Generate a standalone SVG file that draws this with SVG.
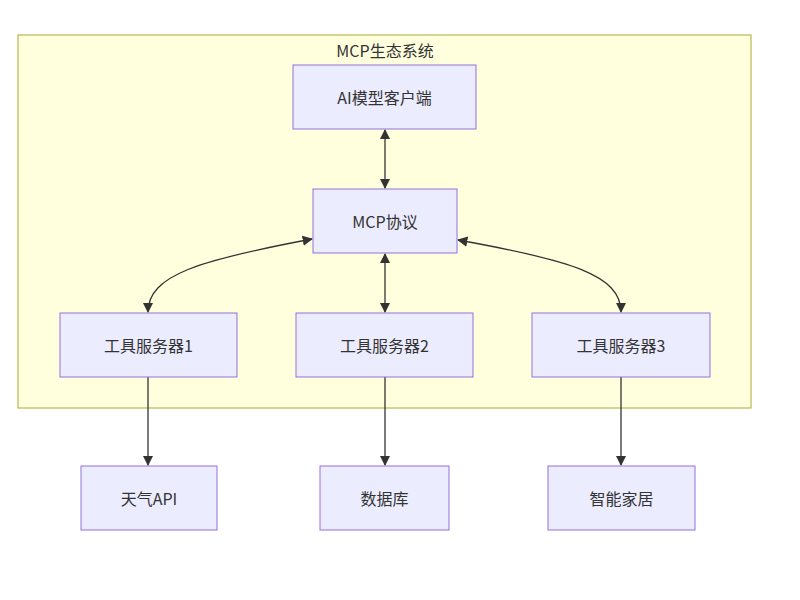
<svg xmlns="http://www.w3.org/2000/svg" width="800" height="600" viewBox="0 0 800 600">
<style>
.node rect{fill:#ececff;stroke:#9370db;stroke-width:1}
text{font-family:"Noto Sans CJK SC","Liberation Sans",sans-serif;font-size:16px;fill:#333;text-anchor:middle;dominant-baseline:central}
.e{fill:none;stroke:#333;stroke-width:1.3}
</style>
<defs>
<marker id="a" viewBox="0 0 10 10" refX="9" refY="5" markerWidth="8" markerHeight="8" orient="auto-start-reverse"><path d="M0,0L10,5L0,10z" fill="#333"/></marker>
</defs>
<rect width="800" height="600" fill="#fff"/>
<g id="cluster"><rect x="18" y="35" width="733" height="373" fill="#ffffde" stroke="#aaaa33"/><text x="385" y="50">MCP生态系统</text></g>
<g id="edges">
<path class="e" d="M385,130V188" marker-start="url(#a)" marker-end="url(#a)"/>
<path class="e" d="M385,254V312" marker-start="url(#a)" marker-end="url(#a)"/>
<path class="e" d="M312,239C200,260 148,275 148,312" marker-start="url(#a)" marker-end="url(#a)"/>
<path class="e" d="M458,240C570,260 621,275 621,312" marker-start="url(#a)" marker-end="url(#a)"/>
<path class="e" d="M148,377V465" marker-end="url(#a)"/>
<path class="e" d="M385,377V465" marker-end="url(#a)"/>
<path class="e" d="M621,377V465" marker-end="url(#a)"/>
</g>
<g id="ai" class="node"><rect x="293" y="65" width="183" height="64"/><text x="384.5" y="97">AI模型客户端</text></g>
<g id="mcp" class="node"><rect x="313" y="189" width="144" height="64"/><text x="385" y="221">MCP协议</text></g>
<g id="s1" class="node"><rect x="60" y="313" width="177" height="64"/><text x="148.5" y="345">工具服务器1</text></g>
<g id="s2" class="node"><rect x="296" y="313" width="177" height="64"/><text x="384.5" y="345">工具服务器2</text></g>
<g id="s3" class="node"><rect x="532" y="313" width="178" height="64"/><text x="621" y="345">工具服务器3</text></g>
<g id="weather" class="node"><rect x="81" y="466" width="136" height="64"/><text x="149" y="498">天气API</text></g>
<g id="db" class="node"><rect x="320" y="466" width="129" height="64"/><text x="384.5" y="498">数据库</text></g>
<g id="home" class="node"><rect x="548" y="466" width="147" height="64"/><text x="621.5" y="498">智能家居</text></g>
</svg>
